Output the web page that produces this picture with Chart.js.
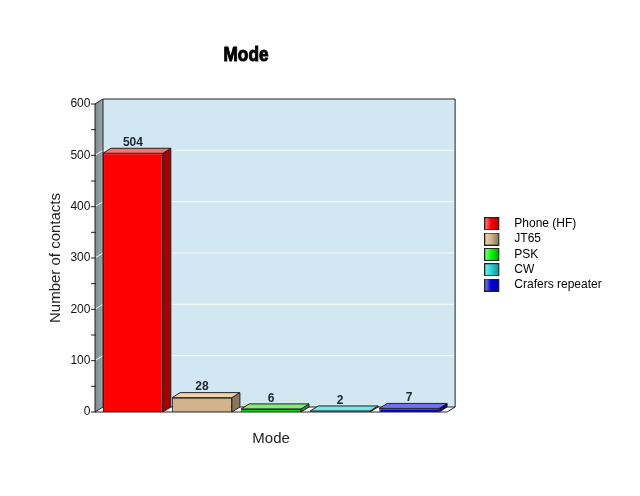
<!DOCTYPE html>
<html>
<head>
<meta charset="utf-8">
<title>Mode</title>
<script src="https://cdn.jsdelivr.net/npm/chart.js@4/dist/chart.umd.min.js"></script>
<style>
body { margin: 0; background: #fff; }
canvas { display: block; }
</style>
</head>
<body>
<canvas id="myChart" width="640" height="496"></canvas>
<script>
var chartTitle = 'Mode';
var xTitle = 'Mode';
var yTitle = 'Number of contacts';
var categories = ['Phone (HF)', 'JT65', 'PSK', 'CW', 'Crafers repeater'];
var contacts = [504, 28, 6, 2, 7];
var frontColors = ['#ff0000', '#d2b48c', '#00e000', '#20d8d8', '#0000d0'];
var sideColors = ['#a80000', '#8c7858', '#209020', '#108080', '#000090'];
var topColors = ['#ff7070', '#f0d4a8', '#80f070', '#70e8e8', '#7070f0'];
var legendLight = ['#ff9090', '#f0d8b8', '#90ff90', '#80f0f0', '#9090ff'];
var legendDark = ['#b00000', '#807050', '#00a000', '#208888', '#0000c0'];

var depthX = 8;
var depthY = 5;
var axisGap = 3.4;

function poly(ctx, pts, fill, stroke) {
  ctx.beginPath();
  ctx.moveTo(pts[0][0], pts[0][1]);
  for (var i = 1; i < pts.length; i++) ctx.lineTo(pts[i][0], pts[i][1]);
  ctx.closePath();
  ctx.fillStyle = fill;
  ctx.fill();
  if (stroke) {
    ctx.strokeStyle = stroke;
    ctx.lineWidth = 1;
    ctx.stroke();
  }
}

function swatch(i) {
  var c = document.createElement('canvas');
  c.width = 24;
  c.height = 13;
  var g = c.getContext('2d');
  var grad = g.createLinearGradient(0, 0, 15, 0);
  grad.addColorStop(0, legendLight[i]);
  grad.addColorStop(0.45, frontColors[i] == '#00e000' ? '#00ff00' : frontColors[i]);
  grad.addColorStop(1, legendDark[i]);
  g.fillStyle = grad;
  g.fillRect(0.5, 0.5, 14, 12);
  g.strokeStyle = '#222';
  g.strokeRect(0.5, 0.5, 14, 12);
  return c;
}

var box3d = {
  id: 'box3d',
  afterLayout: function (chart) {
    // legend sits further right than the layout puts it
    chart.legend.left = 481;
    chart.legend.right = 640;
    chart.legend.width = 159;
    chart.legend.top = 214.5;
    chart.legend.bottom = 300;
  },
  beforeDatasetsDraw: function (chart) {
    var ctx = chart.ctx, y = chart.scales.y;
    var a = chart.chartArea;
    var x0 = a.left - axisGap, x1 = a.right + axisGap;
    var b = a.bottom, t = a.top;
    ctx.save();
    // back wall, left wall, floor
    poly(ctx, [[x0 + depthX, t - depthY], [x1 + depthX, t - depthY], [x1 + depthX, b - depthY], [x0 + depthX, b - depthY]], '#d1e8f2');
    var grad = ctx.createLinearGradient(x0, 0, x0 + depthX, 0);
    grad.addColorStop(0, '#7d8c92');
    grad.addColorStop(1, '#98a6ab');
    poly(ctx, [[x0, t], [x0 + depthX, t - depthY], [x0 + depthX, b - depthY], [x0, b]], grad);
    poly(ctx, [[x0, b], [x0 + depthX, b - depthY], [x1 + depthX, b - depthY], [x1, b]], '#ffffff');
    // white grid lines
    ctx.strokeStyle = '#f4fafc';
    ctx.lineWidth = 1;
    y.ticks.forEach(function (tk) {
      if (tk.value % 100 != 0 || tk.value == 0 || tk.value == 600) return;
      var py = y.getPixelForValue(tk.value);
      ctx.beginPath();
      ctx.moveTo(x0, py);
      ctx.lineTo(x0 + depthX, py - depthY);
      ctx.lineTo(x1 + depthX, py - depthY);
      ctx.stroke();
    });
    // outline
    ctx.strokeStyle = '#222';
    ctx.beginPath();
    ctx.moveTo(x0, t);
    ctx.lineTo(x0 + depthX, t - depthY);
    ctx.lineTo(x1 + depthX, t - depthY);
    ctx.lineTo(x1 + depthX, b - depthY);
    ctx.lineTo(x1, b);
    ctx.moveTo(x0 + depthX, t - depthY);
    ctx.lineTo(x0 + depthX, b - depthY);
    ctx.lineTo(x1 + depthX, b - depthY);
    ctx.moveTo(x0 + depthX, b - depthY);
    ctx.lineTo(x0, b);
    ctx.stroke();
    ctx.restore();
  },
  afterDatasetsDraw: function (chart) {
    var ctx = chart.ctx, y = chart.scales.y;
    var a = chart.chartArea;
    var x0 = a.left - axisGap, x1 = a.right + axisGap;
    ctx.save();
    // bar side and top faces
    chart.getDatasetMeta(0).data.forEach(function (bar, i) {
      var l = bar.x - bar.width / 2, r = bar.x + bar.width / 2;
      poly(ctx, [[r, bar.y], [r + depthX, bar.y - depthY], [r + depthX, bar.base - depthY], [r, bar.base]], sideColors[i], '#222');
      poly(ctx, [[l, bar.y], [l + depthX, bar.y - depthY], [r + depthX, bar.y - depthY], [r, bar.y]], topColors[i], '#222');
      ctx.fillStyle = '#1c2630';
      ctx.font = 'bold 12px "Liberation Sans", sans-serif';
      ctx.textAlign = 'center';
      ctx.textBaseline = 'middle';
      ctx.fillText(contacts[i], bar.x, bar.y - 10.5);
    });
    // front axis lines and tick marks
    ctx.strokeStyle = '#222';
    ctx.lineWidth = 1;
    ctx.beginPath();
    ctx.moveTo(x0, a.top);
    ctx.lineTo(x0, a.bottom);
    ctx.lineTo(x1, a.bottom);
    y.ticks.forEach(function (tk) {
      var py = y.getPixelForValue(tk.value);
      ctx.moveTo(x0 - 4, py);
      ctx.lineTo(x0 + 1, py);
    });
    ctx.stroke();
    // heavy title, squeezed to the narrow look
    ctx.translate(246, 55);
    ctx.scale(0.86, 1);
    ctx.fillStyle = '#000';
    ctx.strokeStyle = '#000';
    ctx.lineWidth = 1;
    ctx.font = 'bold 20px "Liberation Sans", sans-serif';
    ctx.textAlign = 'center';
    ctx.textBaseline = 'middle';
    ctx.fillText(chartTitle, 0, 0);
    ctx.strokeText(chartTitle, 0, 0);
    ctx.restore();
  }
};

new Chart(document.getElementById('myChart').getContext('2d'), {
  type: 'bar',
  data: {
    labels: categories,
    datasets: [{
      data: contacts,
      backgroundColor: frontColors,
      borderColor: '#222',
      borderWidth: 1,
      categoryPercentage: 1,
      barPercentage: 0.866
    }]
  },
  options: {
    responsive: false,
    animation: false,
    layout: { padding: { top: 104, left: 47, right: 65.6, bottom: 0 } },
    plugins: {
      title: { display: false },
      tooltip: { enabled: false },
      legend: {
        position: 'right',
        align: 'start',
        labels: {
          usePointStyle: true,
          pointStyleWidth: 24,
          boxHeight: 12,
          padding: 3.3,
          color: '#222',
          font: { family: '"Liberation Sans", Arial, sans-serif', size: 12 },
          generateLabels: function () {
            return categories.map(function (c, i) {
              return { text: c, pointStyle: swatch(i), fillStyle: frontColors[i], lineWidth: 0, hidden: false, index: i };
            });
          }
        }
      }
    },
    scales: {
      x: {
        grid: { display: false },
        border: { display: false },
        ticks: { display: false },
        title: { display: true, text: xTitle, color: '#222', padding: { top: 0, bottom: 48 }, font: { family: '"Liberation Sans", Arial, sans-serif', size: 15 } },
        afterFit: function (scale) { scale.height = 84; }
      },
      y: {
        min: 0,
        max: 600,
        grid: { display: false },
        border: { display: false },
        ticks: {
          stepSize: 50,
          autoSkip: false,
          padding: 0,
          color: '#111',
          font: { family: '"Liberation Sans", Arial, sans-serif', size: 12 },
          callback: function (v) { return v % 100 == 0 ? v : ''; }
        },
        title: { display: true, text: yTitle, color: '#222', padding: 0, font: { family: '"Liberation Sans", Arial, sans-serif', size: 15 } },
        afterFit: function (scale) { scale.width = 51.4; }
      }
    }
  },
  plugins: [box3d]
});
</script>
</body>
</html>
